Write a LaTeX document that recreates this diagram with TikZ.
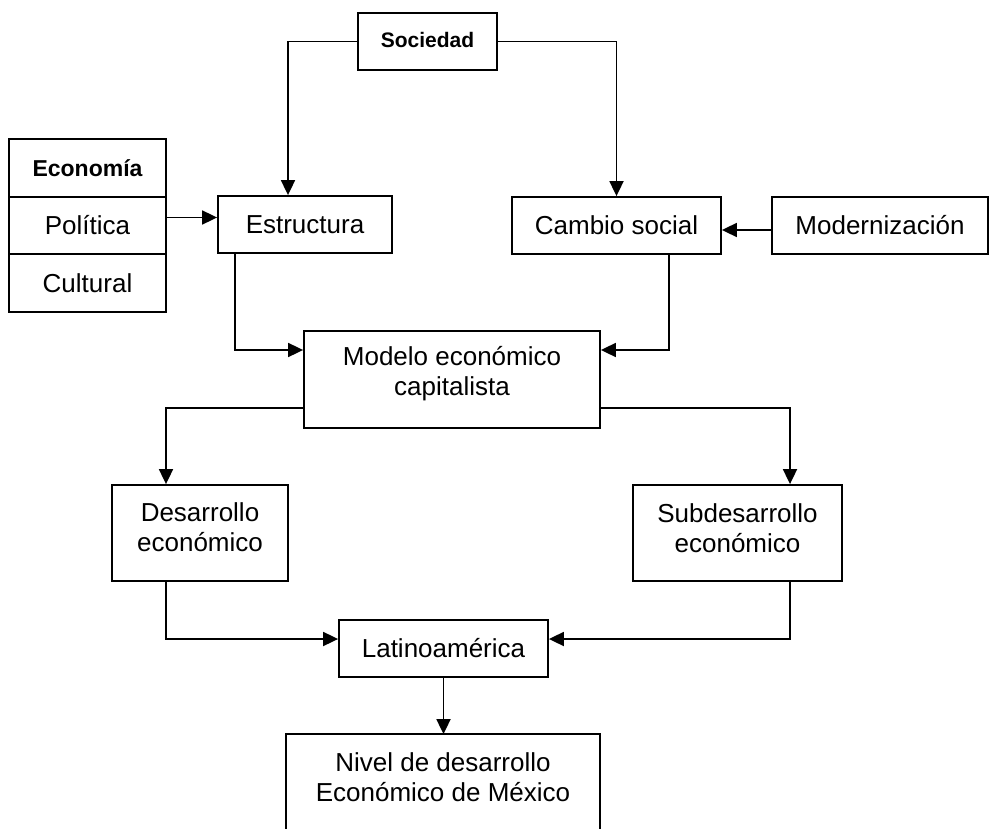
\documentclass[tikz,border=0pt]{standalone}
\usepackage{fontspec}
\setmainfont{Liberation Sans}
\usetikzlibrary{arrows.meta}
\begin{document}
\begin{tikzpicture}[x=1pt,y=-1pt,
  box/.style={draw, line width=1.8pt, inner sep=0pt, align=center, font=\fontsize{26}{30}\selectfont},
  conn/.style={line width=1.8pt},
  arr/.style={line width=1.8pt, -{Triangle[length=15pt,width=14pt]}}]
\useasboundingbox (0,0) rectangle (990,829);
\clip (0,0) rectangle (990,829);
% nodes
\node[box, minimum width=139pt, minimum height=57pt, font=\fontsize{21}{25}\selectfont\bfseries] (soc) at (427.5,41.5) {Sociedad\rule[-4pt]{0pt}{4pt}};
\node[box, minimum width=157pt, minimum height=58pt, font=\fontsize{23}{27}\selectfont\bfseries] (eco) at (87.5,168) {Economía};
\node[box, minimum width=157pt, minimum height=57pt] (pol) at (87.5,225.5) {Política};
\node[box, minimum width=157pt, minimum height=58pt] (cul) at (87.5,283) {Cultural};
\node[box, minimum width=174pt, minimum height=57pt] (estr) at (305,224.5) {Estructura};
\node[box, minimum width=209pt, minimum height=57pt] (cam) at (616.5,225.5) {Cambio social};
\node[box, minimum width=216pt, minimum height=57pt] (mod) at (880,225.5) {Modernización};
\node[box, minimum width=296pt, minimum height=97pt] (modelo) at (452,379.5) {Modelo económico\\capitalista\rule[-17.5pt]{0pt}{17.5pt}};
\node[box, minimum width=176pt, minimum height=96pt] (des) at (200,533) {Desarrollo\\económico\rule[-12.4pt]{0pt}{12.4pt}};
\node[box, minimum width=209pt, minimum height=96pt] (sub) at (737.5,533) {Subdesarrollo\\económico\rule[-10.4pt]{0pt}{10.4pt}};
\node[box, minimum width=209pt, minimum height=57pt] (lat) at (443.5,648.5) {Latinoamérica};
\node[box, draw=none, minimum width=312pt, minimum height=84pt] (niv) at (443,777) {Nivel de desarrollo\\Económico de México};
\draw[conn] ([yshift=-40pt]niv.south west) -- (niv.north west) -- (niv.north east) -- ([yshift=-40pt]niv.south east);
% connectors
\draw[arr] (soc.west) -| ([xshift=-17pt]estr.north);
\draw[arr] (soc.east) -| (cam.north);
\draw[arr] ([yshift=8pt]pol.east) -- ([yshift=8pt]pol.east -| estr.west);
\draw[arr] ([yshift=-4.5pt]mod.west) -- ([yshift=-4.5pt]mod.west -| cam.east);
\draw[arr] ([xshift=-70pt]estr.south) |- ([yshift=29.5pt]modelo.west);
\draw[arr] ([xshift=52.5pt]cam.south) |- ([yshift=29.5pt]modelo.east);
\draw[arr] ([yshift=-28.5pt]modelo.west) -| ([xshift=-34pt]des.north);
\draw[arr] ([yshift=-28.5pt]modelo.east) -| ([xshift=52.5pt]sub.north);
\draw[arr] ([xshift=-34pt]des.south) |- ([yshift=9.5pt]lat.west);
\draw[arr] ([xshift=52.5pt]sub.south) |- ([yshift=9.5pt]lat.east);
\draw[arr] (lat.south) -- (lat.south |- niv.north);
\end{tikzpicture}
\end{document}
